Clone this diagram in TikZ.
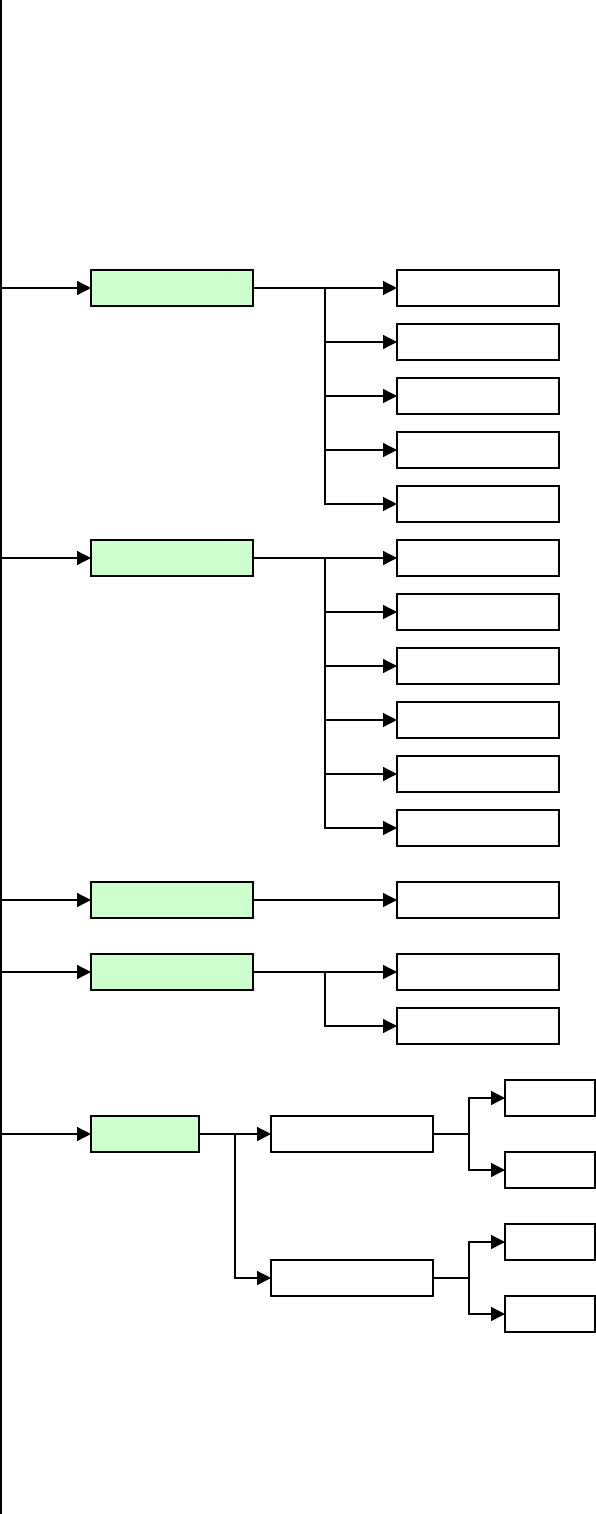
\documentclass[tikz,border=0pt]{standalone}
\usetikzlibrary{arrows.meta,positioning}
\definecolor{leafgreen}{HTML}{CCFFCC}

\begin{document}
\begin{tikzpicture}[
  x=1pt, y=-1pt,
  node distance=18pt,
  topic/.style={draw, fill=leafgreen, line width=1.6pt, minimum width=162pt,
    minimum height=36pt, inner sep=0pt, outer sep=0pt},
  item/.style={draw, fill=white, line width=1.6pt, minimum width=162pt,
    minimum height=36pt, inner sep=0pt, outer sep=0pt},
  leaf/.style={item, minimum width=90pt},
  conn/.style={line width=1.3pt},
  flow/.style={conn, -{Triangle[length=14pt, width=14pt]}}
]
\useasboundingbox (0,0) rectangle (596,1514);

% trunk
\coordinate (top) at (1,0);
\coordinate (bottom) at (1,1514);
\draw[line width=2.2pt] (top) -- (bottom);

% first group
\node[topic, anchor=west] (t1) at (91,288) {};
\node[item, anchor=west] (a1) at (397,288) {};
\node[item, below=of a1] (a2) {};
\node[item, below=of a2] (a3) {};
\node[item, below=of a3] (a4) {};
\node[item, below=of a4] (a5) {};
\coordinate (j1) at (325,288);
\draw[flow] (top |- t1.west) -- (t1.west);
\draw[flow] (t1) -- (a1);
\foreach \i in {2,...,5}
  \draw[flow] (j1) |- (a\i);

% second group
\node[topic, anchor=west] (t2) at (91,558) {};
\node[item, anchor=west] (b1) at (397,558) {};
\node[item, below=of b1] (b2) {};
\node[item, below=of b2] (b3) {};
\node[item, below=of b3] (b4) {};
\node[item, below=of b4] (b5) {};
\node[item, below=of b5] (b6) {};
\coordinate (j2) at (325,558);
\draw[flow] (top |- t2.west) -- (t2.west);
\draw[flow] (t2) -- (b1);
\foreach \i in {2,...,6}
  \draw[flow] (j2) |- (b\i);

% third group
\node[topic, anchor=west] (t3) at (91,900) {};
\node[item, anchor=west] (c1) at (397,900) {};
\draw[flow] (top |- t3.west) -- (t3.west);
\draw[flow] (t3) -- (c1);

% fourth group
\node[topic, anchor=west] (t4) at (91,972) {};
\node[item, anchor=west] (d1) at (397,972) {};
\node[item, below=of d1] (d2) {};
\coordinate (j4) at (325,972);
\draw[flow] (top |- t4.west) -- (t4.west);
\draw[flow] (t4) -- (d1);
\draw[flow] (j4) |- (d2);

% fifth group
\node[topic, anchor=west, minimum width=108pt] (t5) at (91,1134) {};
\node[item, anchor=west] (m1) at (271,1134) {};
\node[item, anchor=west] (m2) at (271,1278) {};
\node[leaf, anchor=west] (s1) at (505,1098) {};
\node[leaf, anchor=west] (s2) at (505,1170) {};
\node[leaf, anchor=west] (s3) at (505,1242) {};
\node[leaf, anchor=west] (s4) at (505,1314) {};
\coordinate (j5) at (235,1134);
\coordinate (k1) at (469,1134);
\coordinate (k2) at (469,1278);
\draw[flow] (top |- t5.west) -- (t5.west);
\draw[flow] (t5) -- (m1);
\draw[flow] (j5) |- (m2);
\draw[conn] (m1) -- (k1);
\draw[flow] (k1) |- (s1);
\draw[flow] (k1) |- (s2);
\draw[conn] (m2) -- (k2);
\draw[flow] (k2) |- (s3);
\draw[flow] (k2) |- (s4);
\end{tikzpicture}
\end{document}
